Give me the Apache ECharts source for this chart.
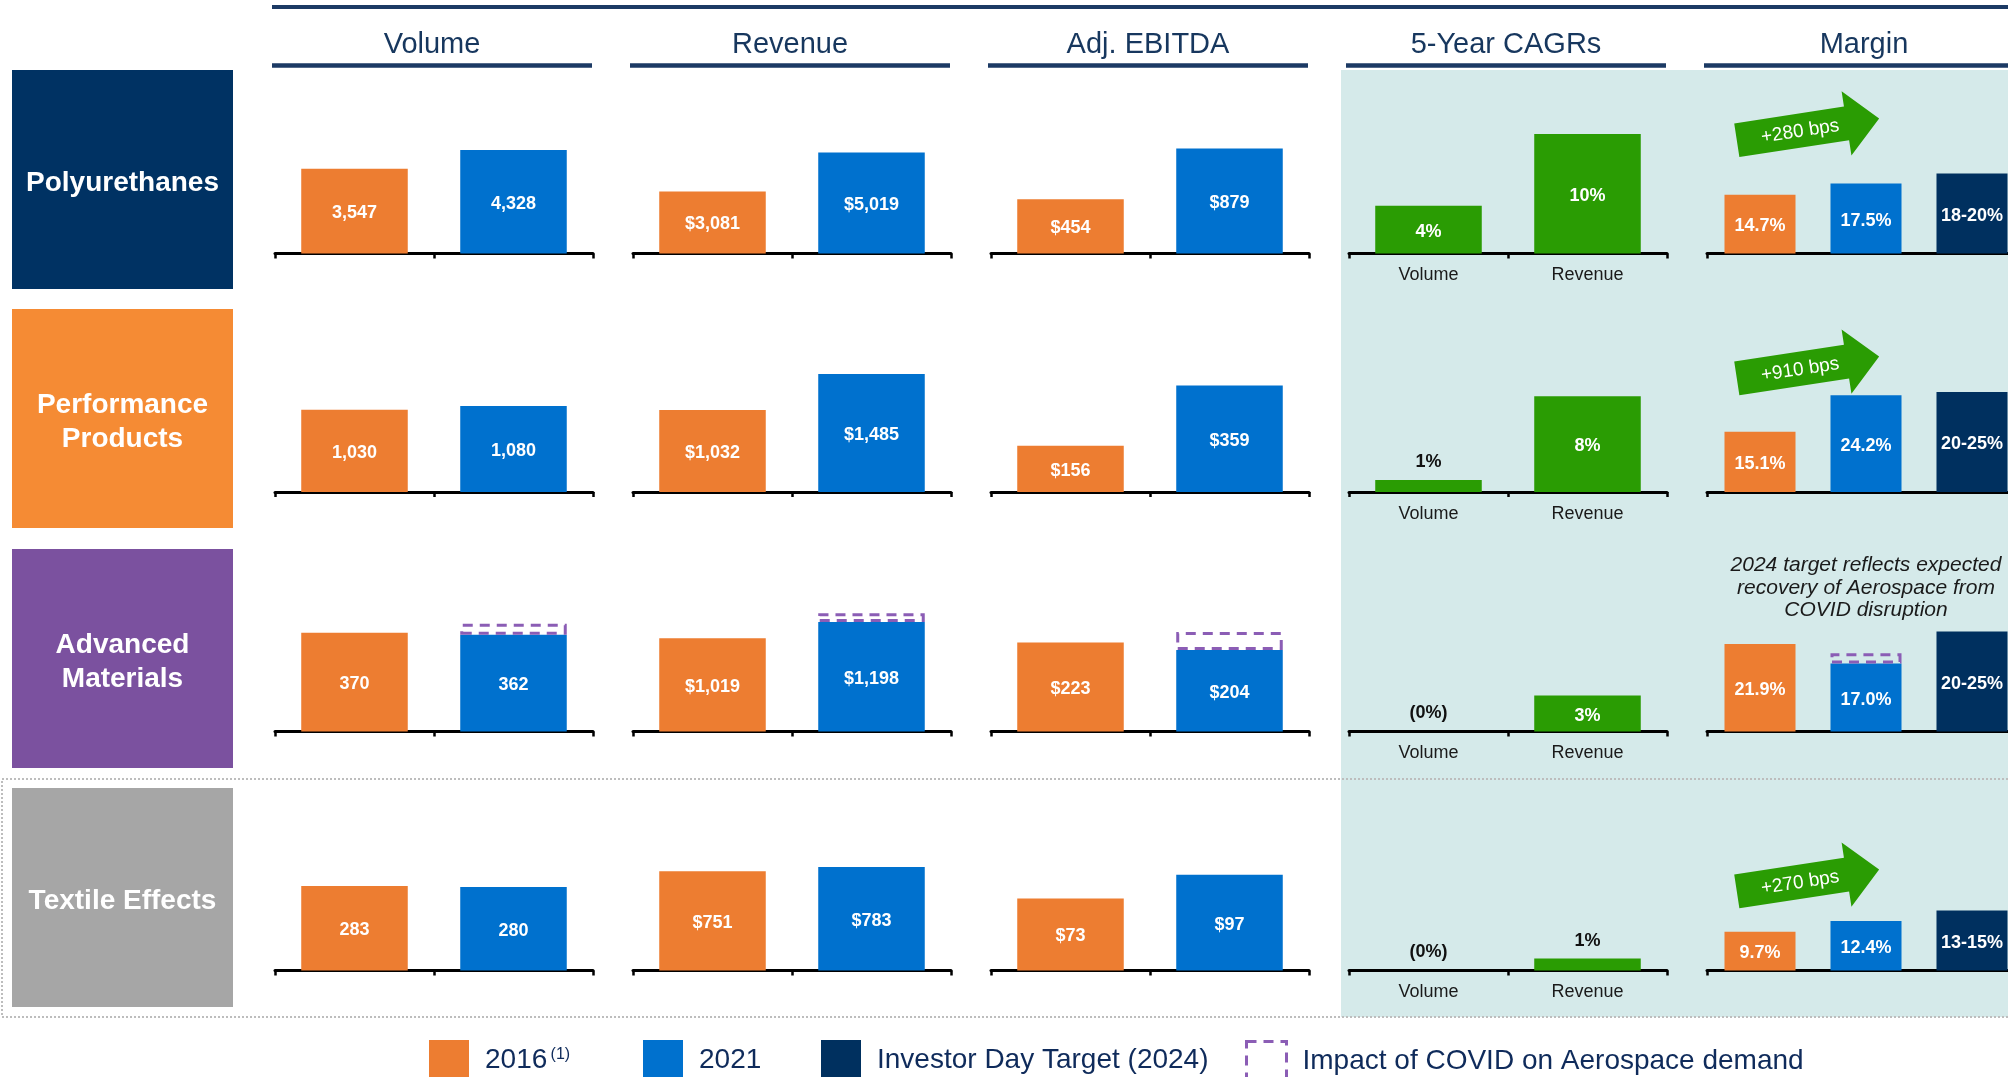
<!DOCTYPE html>
<html><head><meta charset="utf-8">
<script src="https://cdn.jsdelivr.net/npm/echarts@6/dist/echarts.min.js"></script>
<style>html,body{margin:0;padding:0;background:#fff;}#c{width:2008px;height:1077px;}</style>
</head><body><div id="c"></div>
<script>
// ---------------- DATA ----------------
const segments = ['Polyurethanes', 'Performance\nProducts', 'Advanced\nMaterials', 'Textile Effects'];
const metricTitles = ['Volume', 'Revenue', 'Adj. EBITDA', '5-Year CAGRs', 'Margin'];
const yearCategories = ['2016', '2021'];
const cagrCategories = ['Volume', 'Revenue'];
const marginCategories = ['2016', '2021', 'Investor Day Target (2024)'];

const volume2016 = [3547, 1030, 370, 283];
const volume2021 = [4328, 1080, 362, 280];
const revenue2016 = [3081, 1032, 1019, 751];
const revenue2021 = [5019, 1485, 1198, 783];
const ebitda2016 = [454, 156, 223, 73];
const ebitda2021 = [879, 359, 204, 97];
const cagrVolume = [4, 1, 0, 0];
const cagrRevenue = [10, 8, 3, 1];
const margin2016 = [14.7, 15.1, 21.9, 9.7];
const margin2021 = [17.5, 24.2, 17.0, 12.4];
const marginTargetLow = [18, 20, 20, 13];
const marginTargetHigh = [20, 25, 25, 15];
// estimated COVID impact on Aerospace demand (dashed boxes), Advanced Materials only
const covidVolume = [0, 0, 41, 0];
const covidRevenue = [0, 0, 95, 0];
const covidEbitda = [0, 0, 45, 0];
const covidMargin = [0, 0, 2.6, 0];
const noteText = '2024 target reflects expected\nrecovery of Aerospace from\nCOVID disruption';

// ---------------- LAYOUT / STYLE ----------------
const S2016 = '2016', S2021 = '2021', TARGET = 'Investor Day Target (2024)', COVID = 'Impact of COVID on Aerospace demand';
const FONT = "'Liberation Sans', Arial, Helvetica, sans-serif";
const C = {orange:'#ED7D31', blue:'#0071CE', navy:'#00305F', green:'#2A9C03', purple:'#8B5DB5',
  teal:'#D5EAEA', headText:'#17375E', headLine:'#1C3A64', legendText:'#0F2B5B'};
const boxColors = ['#003263', '#F58B34', '#7B519F', '#A6A6A6'];
const colLeft = [275, 633, 991, 1349, 1707];
const colWidth = 318;
const rowAxisY = [253.5, 492, 731.5, 970.5];
const rowBoxTop = [70, 309, 549, 788];
const plotH = 183;
const axisMax = {
  volume: [7652, 2295, 685, 613],
  revenue: [9085, 2303, 2002, 1384],
  ebitda: [1532, 617, 458, 185.3],
  cagr: [15.3, 15.3, 15.3, 15.3],
  margin: [45.8, 45.8, 45.8, 45.8]
};
const arrowAnchorY = [140.2, 378.4, null, 891.4];

const grids = [], xAxes = [], yAxes = [], series = [];
function addPanel(r, c, cats, max, showLabels) {
  const g = grids.length;
  grids.push({left: colLeft[c], top: rowAxisY[r] - plotH, width: colWidth, height: plotH,
    outerBoundsMode: 'none', containLabel: false});
  xAxes.push({gridIndex: g, type: 'category', data: cats, boundaryGap: true,
    axisLine: {show: true, lineStyle: {color: '#000', width: 3}},
    axisTick: {show: true, length: 5, lineStyle: {color: '#000', width: 2.5}},
    axisLabel: {show: showLabels, color: '#1a1a1a', fontSize: 18, fontFamily: FONT, margin: 13},
    splitLine: {show: false}});
  yAxes.push({gridIndex: g, type: 'value', min: 0, max: max, show: false});
  return g;
}
const insideLabel = fmt => ({show: true, position: 'inside', offset: [0, 2], color: '#fff', fontSize: 18, fontWeight: 'bold',
  fontFamily: FONT, formatter: p => fmt(p.value)});
function bar(name, g, data, color, fmt) {
  return {type: 'bar', name, xAxisIndex: g, yAxisIndex: g, stack: 's' + g, barWidth: '67%', data,
    itemStyle: {color}, label: insideLabel(fmt), emphasis: {disabled: true}, silent: true};
}
function covidBar(g, data) {
  return {type: 'bar', name: COVID, xAxisIndex: g, yAxisIndex: g, stack: 's' + g, barWidth: '67%', data,
    itemStyle: {color: 'rgba(0,0,0,0)', borderColor: C.purple, borderWidth: 3, borderType: [10, 7]},
    label: {show: false}, emphasis: {disabled: true}, silent: true};
}
const fmtNum = v => v.toLocaleString('en-US');
const fmtMoney = v => '$' + v.toLocaleString('en-US');
const fmtPct1 = v => v.toFixed(1) + '%';
const fmtCagr = v => v <= 0 ? '(' + Math.abs(v) + '%)' : v + '%';

for (let r = 0; r < 4; r++) {
  const metrics = [
    [volume2016, volume2021, covidVolume, axisMax.volume, fmtNum],
    [revenue2016, revenue2021, covidRevenue, axisMax.revenue, fmtMoney],
    [ebitda2016, ebitda2021, covidEbitda, axisMax.ebitda, fmtMoney]
  ];
  metrics.forEach(([a, b, cv, mx, fmt], c) => {
    const g = addPanel(r, c, yearCategories, mx[r], false);
    series.push(bar(S2016, g, [a[r], '-'], C.orange, fmt));
    series.push(bar(S2021, g, ['-', b[r]], C.blue, fmt));
    if (cv[r]) series.push(covidBar(g, ['-', cv[r]]));
  });
  // CAGRs
  let g = addPanel(r, 3, cagrCategories, axisMax.cagr[r], true);
  series.push({type: 'bar', name: '5-Year CAGR', xAxisIndex: g, yAxisIndex: g, barWidth: '67%',
    data: [cagrVolume[r], cagrRevenue[r]].map(v => v < 2
      ? {value: v, label: {position: 'top', offset: [0, 0], color: '#111', distance: 9}}
      : {value: v}),
    itemStyle: {color: C.green}, label: insideLabel(fmtCagr), emphasis: {disabled: true}, silent: true});
  // Margin
  g = addPanel(r, 4, marginCategories, axisMax.margin[r], false);
  series.push(bar(S2016, g, [margin2016[r], '-', '-'], C.orange, fmtPct1));
  series.push(bar(S2021, g, ['-', margin2021[r], '-'], C.blue, fmtPct1));
  series.push(bar(TARGET, g, ['-', '-', marginTargetHigh[r]], C.navy,
    () => marginTargetLow[r] + '-' + marginTargetHigh[r] + '%'));
  if (covidMargin[r]) series.push(covidBar(g, ['-', covidMargin[r], '-']));
}

// ---------------- GRAPHICS (frame, headers, row labels, annotations) ----------------
const graphics = [];
graphics.push({type: 'rect', z: -10, shape: {x: 1341, y: 70, width: 680, height: 947}, style: {fill: C.teal}});
graphics.push({type: 'rect', z: -9, shape: {x: 2, y: 779, width: 2020, height: 238},
  style: {fill: null, stroke: '#BDBDBD', lineWidth: 2, lineDash: [2, 2]}});
graphics.push({type: 'line', z: 5, shape: {x1: 272, y1: 7, x2: 2008, y2: 7}, style: {stroke: C.headLine, lineWidth: 4}});
metricTitles.forEach((t, c) => {
  graphics.push({type: 'line', z: 5, shape: {x1: colLeft[c] - 3, y1: 65.5, x2: colLeft[c] + 317, y2: 65.5},
    style: {stroke: C.headLine, lineWidth: 4.5}});
  graphics.push({type: 'text', z: 5, x: colLeft[c] + colWidth / 2 - 2, y: 45,
    style: {text: t, fill: C.headText, font: '29px ' + FONT, align: 'center', verticalAlign: 'middle'}});
});
segments.forEach((s, r) => {
  graphics.push({type: 'rect', z: 5, shape: {x: 12, y: rowBoxTop[r], width: 221, height: 219}, style: {fill: boxColors[r]}});
  graphics.push({type: 'text', z: 6, x: 122.5, y: rowBoxTop[r] + 113,
    style: {text: s, fill: '#fff', font: 'bold 28px ' + FONT, align: 'center', verticalAlign: 'middle', lineHeight: 34}});
});
for (let r = 0; r < 4; r++) {
  const bps = Math.round((margin2021[r] - margin2016[r]) * 100);
  if (bps <= 0 || arrowAnchorY[r] == null) continue;
  graphics.push({type: 'group', z: 20, x: 1736.8, y: arrowAnchorY[r], rotation: 0.152, children: [
    {type: 'polygon', z: 20, shape: {points: [[0, -17], [111, -17], [111, -32.5], [144, 0], [111, 32.5], [111, 17], [0, 17]]},
      style: {fill: C.green}},
    {type: 'text', z: 21, x: 64, y: 1, style: {text: '+' + bps + ' bps', fill: '#fff', font: '19px ' + FONT,
      align: 'center', verticalAlign: 'middle'}}
  ]});
}
graphics.push({type: 'text', z: 20, x: 1866, y: 588,
  style: {text: noteText, fill: '#1a1a1a', font: 'italic 21px ' + FONT, align: 'center', verticalAlign: 'middle', lineHeight: 22.5}});

// ---------------- LEGEND ----------------
const legendBase = {orient: 'horizontal', itemWidth: 40, itemHeight: 40, icon: 'rect', selectedMode: false, padding: 0, top: 1040,
  textStyle: {rich: {
    a: {fontSize: 28, color: C.legendText, fontFamily: FONT, padding: [0, 0, 0, 11]},
    s: {fontSize: 16, color: C.legendText, fontFamily: FONT, padding: [0, 0, 10, 0]}
  }}};
const legends = [
  Object.assign({}, legendBase, {left: 429, data: [S2016], formatter: n => '{a|' + n + '} {s|(1)}'}),
  Object.assign({}, legendBase, {left: 643, data: [S2021], formatter: n => '{a|' + n + '}'}),
  Object.assign({}, legendBase, {left: 821, data: [TARGET], formatter: n => '{a|' + n + '}'}),
  Object.assign({}, legendBase, {left: 1245, data: [{name: COVID, itemStyle: {color: 'rgba(0,0,0,0)', borderColor: C.purple,
    borderWidth: 3, borderType: [10, 7]}}], formatter: n => '{a|' + n + '}'})
];

const chart = echarts.init(document.getElementById('c'), null, {renderer: 'canvas'});
chart.setOption({
  animation: false,
  backgroundColor: '#fff',
  textStyle: {fontFamily: FONT},
  grid: grids, xAxis: xAxes, yAxis: yAxes, series: series,
  legend: legends,
  graphic: graphics,
  tooltip: {show: false}
});
</script></body></html>
